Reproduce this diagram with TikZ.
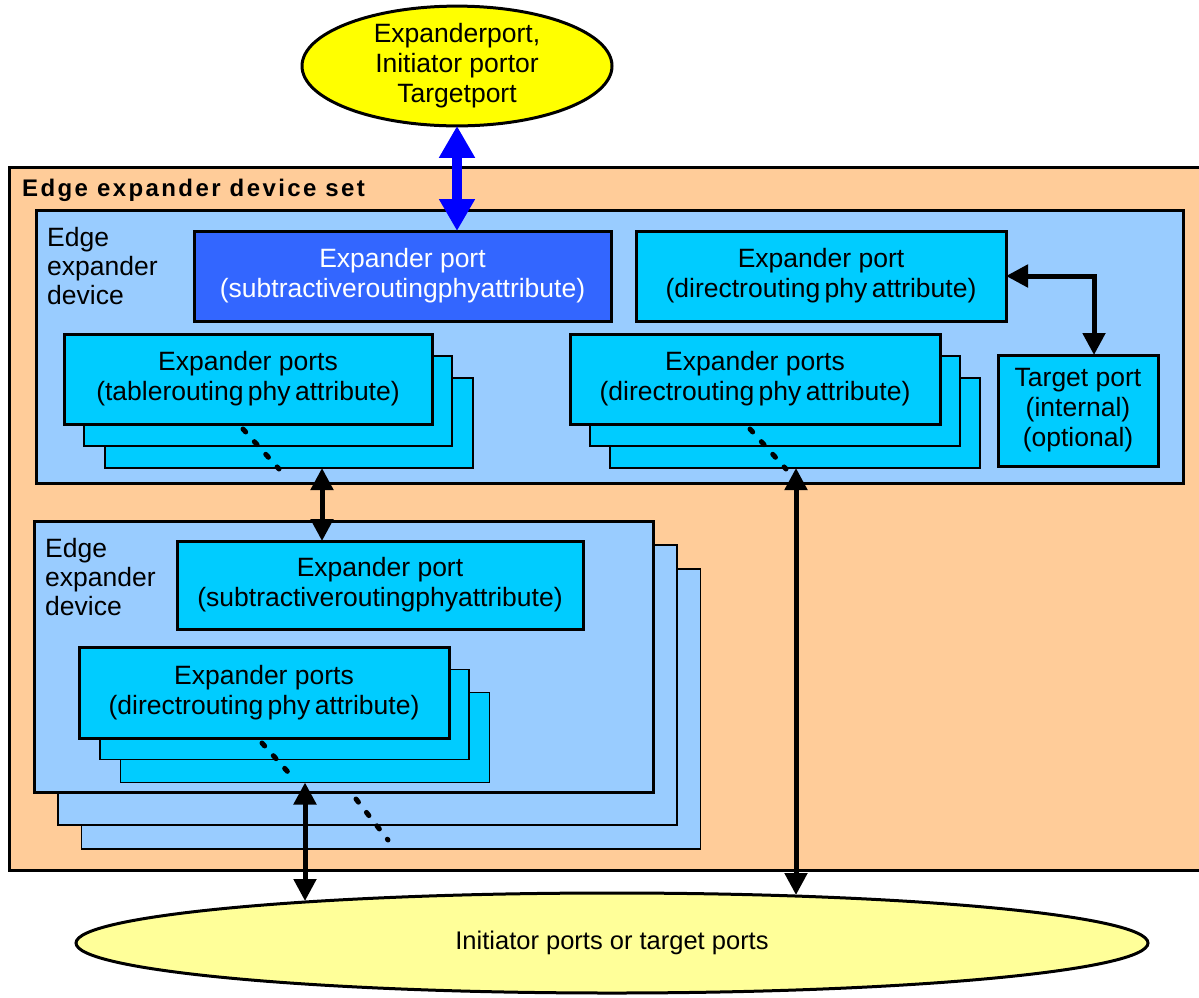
\documentclass[tikz,border=0pt]{standalone}
\usepackage{fontspec}
\setmainfont{Liberation Sans}
\usetikzlibrary{arrows.meta,shapes.geometric,calc}
\definecolor{orangeF}{HTML}{FFCC99}
\definecolor{lblue}{HTML}{99CCFF}
\definecolor{cyanF}{HTML}{00CCFF}
\definecolor{dblue}{HTML}{3366FF}
\definecolor{yel}{HTML}{FFFF00}
\definecolor{lyel}{HTML}{FFFF99}
\begin{document}
\begin{tikzpicture}[x=1pt,y=-1pt,
  txt/.style={font=\fontsize{26.5}{30}\selectfont, align=center},
  frontbox/.style={draw, line width=3pt, fill=cyanF, inner sep=0pt, outer sep=0pt, txt},
  backbox/.style={draw, line width=1.5pt, fill=cyanF, inner sep=0pt, outer sep=0pt},
  devbox/.style={draw, line width=3pt, fill=lblue, inner sep=0pt, outer sep=0pt},
  devback/.style={draw, line width=1.5pt, fill=lblue, inner sep=0pt, outer sep=0pt},
  oval/.style={ellipse, draw, line width=3pt, inner sep=0pt, outer sep=0pt, txt},
  devlabel/.style={anchor=west, inner sep=0pt, align=left, font=\fontsize{26.5}{29}\selectfont},
  dbl/.style={line width=5pt, {Triangle[width=22pt,length=22pt]}-{Triangle[width=22pt,length=22pt]}},
  dots/.style={line width=5pt, line cap=round, dash pattern=on 4pt off 13pt}
]
\useasboundingbox (0,0) rectangle (1199,997);

% top ellipse
\node[oval, fill=yel, minimum width=310pt, minimum height=117pt] (top) at (457,66)
  {Expanderport,\\Initiator portor\\Targetport};

% outer set
\node[draw, line width=3pt, fill=orangeF, inner sep=0pt, outer sep=0pt,
  minimum width=1200pt, minimum height=703pt] (set) at (609,518.5) {};
\node[anchor=west, inner sep=0pt, font=\fontsize{24}{28}\selectfont\bfseries\addfontfeature{LetterSpace=10}] (settitle) at (22,190) {Edge expander device set};

% lower device stack (back)
\node[devback, minimum width=619pt, minimum height=280pt] (devB3) at (391,709) {};
\node[devback, minimum width=619pt, minimum height=280pt] (devB2) at (367.5,685) {};

% upper device
\node[devbox, minimum width=1147pt, minimum height=273pt] (dev1) at (609.5,346.5) {};
\node[devlabel] (lab1) at (47,266) {Edge\\expander\\device};

\node[frontbox, fill=dblue, text=white, minimum width=417pt, minimum height=90pt] (sub1) at (402.5,276)
  {Expander port\\(subtractiveroutingphyattribute)};
\node[frontbox, minimum width=370pt, minimum height=90pt] (dir1) at (821,276)
  {Expander port\\(directrouting\,phy\,attribute)};

\node[backbox, minimum width=368pt, minimum height=90pt] (tab3) at (289,423) {};
\node[backbox, minimum width=368pt, minimum height=90pt] (tab2) at (268,401) {};
\node[frontbox, minimum width=368pt, minimum height=90pt] (tab) at (248,379)
  {Expander ports\\(tablerouting\,phy\,attribute)};

\node[backbox, minimum width=370pt, minimum height=90pt] (mid3) at (795,423) {};
\node[backbox, minimum width=370pt, minimum height=90pt] (mid2) at (775,401) {};
\node[frontbox, minimum width=370pt, minimum height=90pt] (mid) at (755,379)
  {Expander ports\\(directrouting\,phy\,attribute)};

\node[frontbox, minimum width=160pt, minimum height=111pt] (tgt) at (1078,410.5)
  {Target port\\(internal)\\(optional)};

% lower device front
\node[devbox, minimum width=619pt, minimum height=271pt] (dev2) at (343.5,656.5) {};
\node[devlabel] (lab2) at (45,577) {Edge\\expander\\device};

\node[frontbox, minimum width=406pt, minimum height=88pt] (sub2) at (380,585)
  {Expander port\\(subtractiveroutingphyattribute)};

\node[backbox, minimum width=369pt, minimum height=90pt] (pt3) at (305,737.5) {};
\node[backbox, minimum width=369pt, minimum height=90pt] (pt2) at (284.5,714.5) {};
\node[frontbox, minimum width=370pt, minimum height=91pt] (pt) at (264,692.5)
  {Expander ports\\(directrouting\,phy\,attribute)};

% bottom ellipse
\node[oval, fill=lyel, minimum width=1072pt, minimum height=100pt, font=\fontsize{25.5}{30}\selectfont] (bot) at (612,943)
  {Initiator ports or target ports};
\coordinate (botA) at (305,901);
\coordinate (botB) at (796,895);

% connectors
\draw[line width=10pt, blue, {Triangle[width=34pt,length=32pt]}-{Triangle[width=34pt,length=32pt]}]
  (top.south) -- (top.south |- sub1.north);

\coordinate (tgtx) at (1094,0);
\draw[dbl] (dir1.east) -- (tgtx |- dir1.east) -- (tgtx |- tgt.north);

\coordinate (ax1) at (322,0);
\draw[dbl] (ax1 |- tab3.south) -- (ax1 |- sub2.north);

\draw[dbl] (botB |- mid3.south) -- (botB);

\draw[dbl] (botA |- pt3.south) -- (botA);

% dotted continuation marks
\coordinate (d1a) at (243,429);
\coordinate (d1b) at (279,469);
\draw[dots] (d1a) -- (d1b);
\coordinate (d2a) at (750,429);
\coordinate (d2b) at (786,469);
\draw[dots] (d2a) -- (d2b);
\coordinate (d3a) at (262,743);
\coordinate (d3b) at (296,781);
\draw[dots] (d3a) -- (d3b);
\coordinate (d4a) at (356,799);
\coordinate (d4b) at (388,840);
\draw[dots] (d4a) -- (d4b);
\end{tikzpicture}
\end{document}
